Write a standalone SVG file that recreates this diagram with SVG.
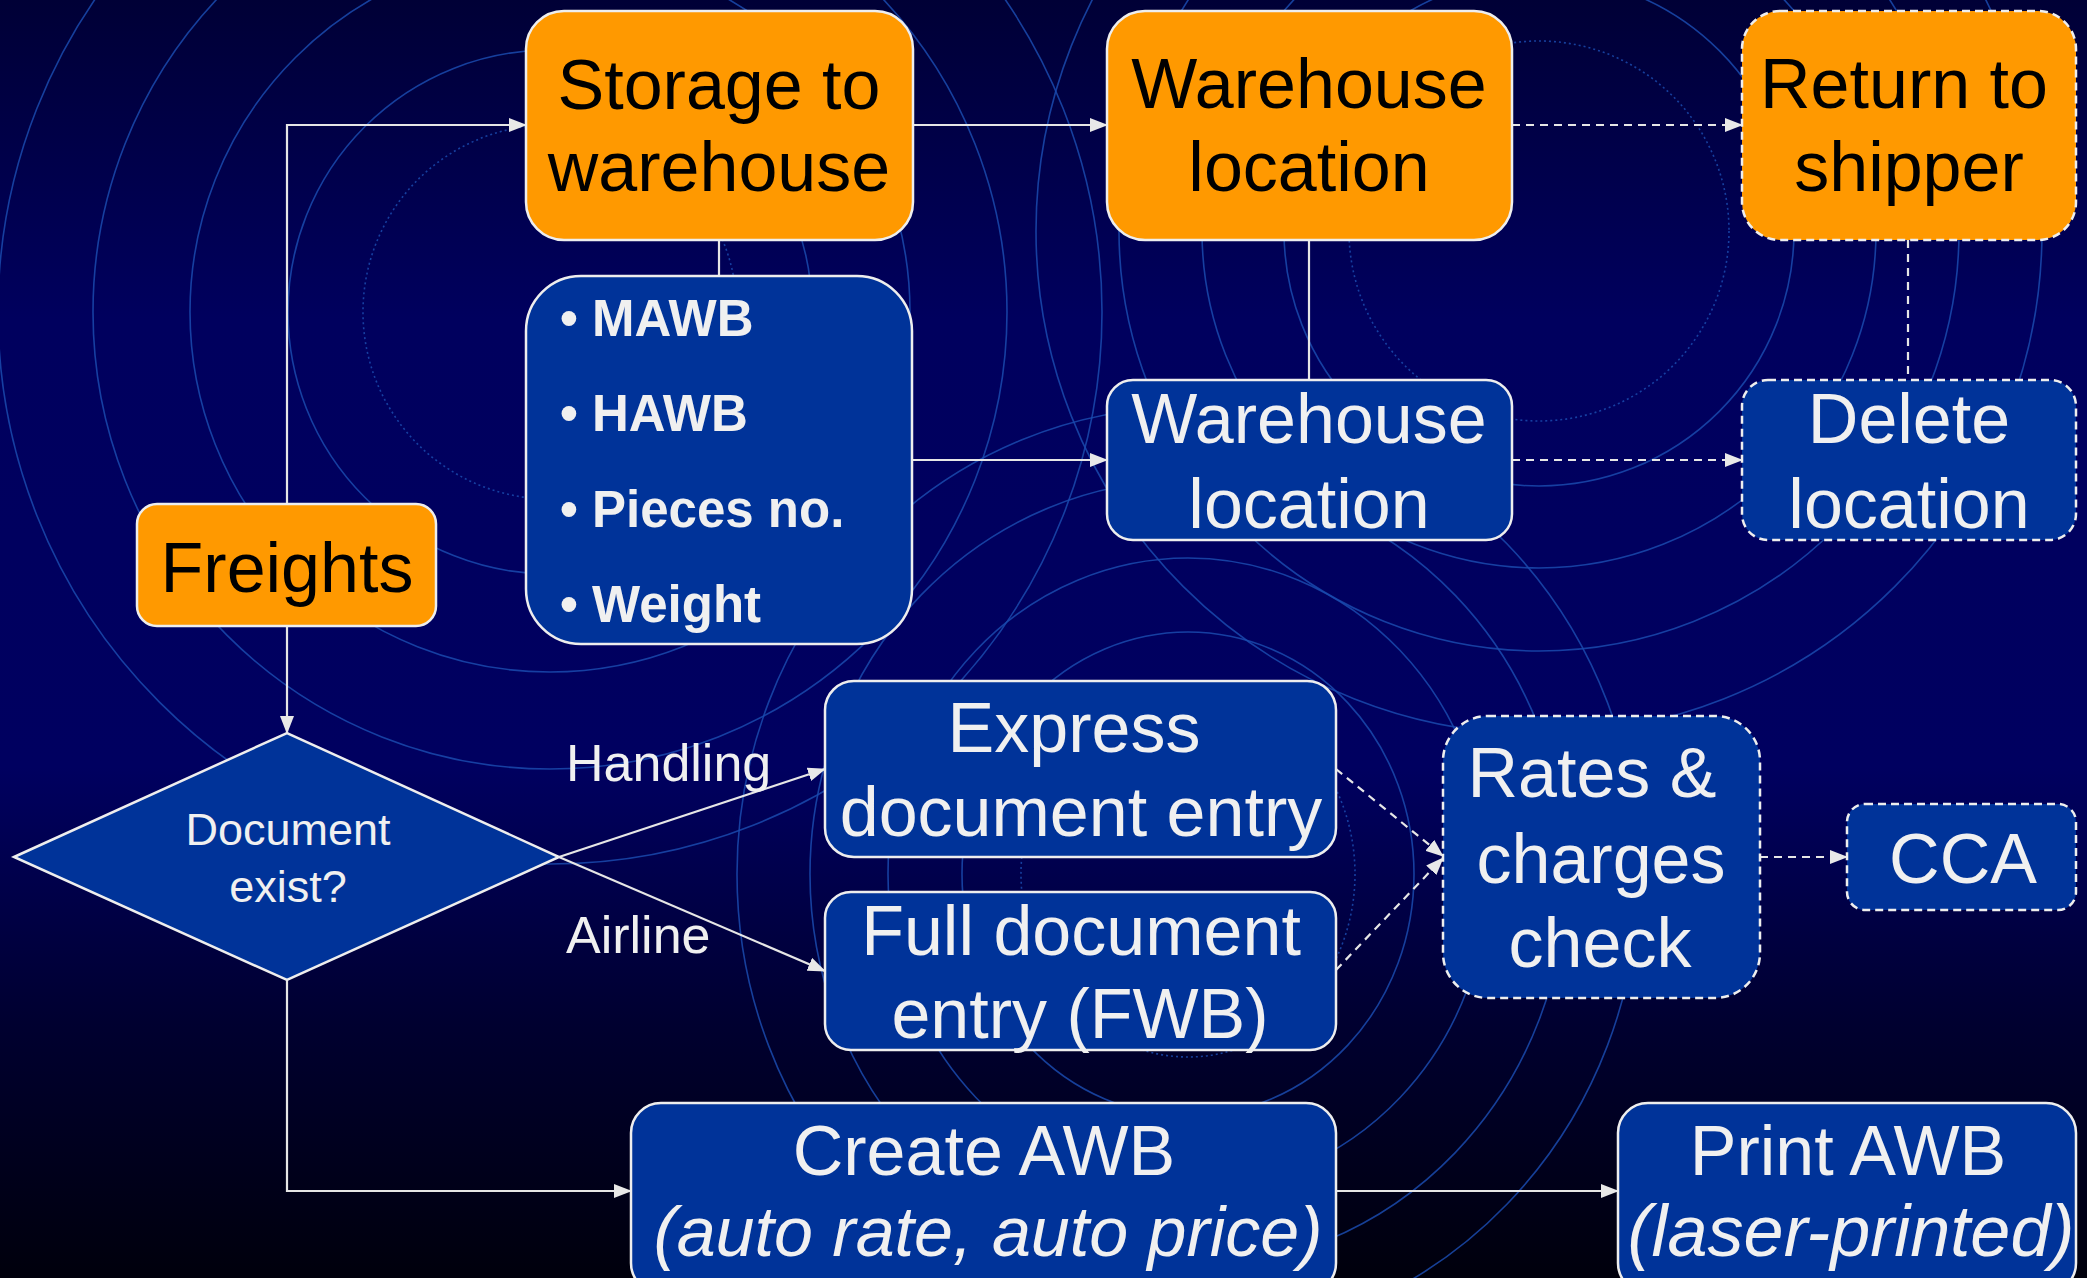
<svg xmlns="http://www.w3.org/2000/svg" width="2087" height="1278" viewBox="0 0 2087 1278">
<defs>
<linearGradient id="bg" x1="0" y1="0" x2="0" y2="1">
<stop offset="0" stop-color="#000036"/>
<stop offset="0.25" stop-color="#00005e"/>
<stop offset="0.6" stop-color="#000060"/>
<stop offset="0.8" stop-color="#000030"/>
<stop offset="1" stop-color="#00000c"/>
</linearGradient>
<marker id="arr" markerUnits="userSpaceOnUse" markerWidth="18" markerHeight="14" refX="17" refY="7" orient="auto">
<path d="M0,0 L18,7 L0,14 z" fill="#e8e8e8"/>
</marker>
<style>
.ring{fill:none;stroke:#1a4aae;stroke-width:1.6;opacity:0.85}
.dot{fill:none;stroke:#1a4aae;stroke-width:1.6;stroke-dasharray:2 3;opacity:0.85}
.org{fill:#ff9900;stroke:#eeeeee;stroke-width:2.5}
.blu{fill:#003399;stroke:#eeeeee;stroke-width:2.5}
.dash{stroke-dasharray:8 5}
.ln{fill:none;stroke:#e6e6e6;stroke-width:2.2}
.dl{fill:none;stroke:#e6e6e6;stroke-width:2.2;stroke-dasharray:8 6}
text{font-family:"Liberation Sans",Arial,sans-serif}
.tb{font-size:70px;fill:#000000;text-anchor:middle}
.tw{font-size:70px;fill:#f0f0f0;text-anchor:middle}
.it{font-style:italic}
.bul{font-size:51px;font-weight:bold;fill:#f0f0f0}
.lbl{font-size:52px;fill:#f0f0f0}
</style>
</defs>
<g id="background">
<rect x="0" y="0" width="2087" height="1278" fill="url(#bg)"/>
<circle class="dot" cx="550" cy="312" r="187"/>
<circle class="ring" cx="550" cy="312" r="262"/>
<circle class="ring" cx="550" cy="312" r="360"/>
<circle class="ring" cx="550" cy="312" r="457"/>
<circle class="ring" cx="550" cy="312" r="552"/>
<circle class="dot" cx="1539" cy="231" r="190"/>
<circle class="ring" cx="1539" cy="231" r="255"/>
<circle class="ring" cx="1539" cy="231" r="337"/>
<circle class="ring" cx="1539" cy="231" r="420"/>
<circle class="ring" cx="1539" cy="231" r="503"/>
<ellipse class="dot" cx="1188" cy="874" rx="167" ry="183"/>
<ellipse class="ring" cx="1188" cy="874" rx="226" ry="242"/>
<ellipse class="ring" cx="1188" cy="874" rx="300" ry="316"/>
<ellipse class="ring" cx="1188" cy="874" rx="378" ry="394"/>
<ellipse class="ring" cx="1188" cy="874" rx="451" ry="467"/>
</g>
<g id="connectors">
<polyline class="ln" points="287,504 287,125 526,125" marker-end="url(#arr)"/>
<line class="ln" x1="913" y1="125" x2="1107" y2="125" marker-end="url(#arr)"/>
<line class="ln" x1="719" y1="240" x2="719" y2="276"/>
<line class="ln" x1="912" y1="460" x2="1107" y2="460" marker-end="url(#arr)"/>
<line class="ln" x1="1309" y1="240" x2="1309" y2="380"/>
<line class="dl" x1="1512" y1="125" x2="1742" y2="125" marker-end="url(#arr)"/>
<line class="dl" x1="1512" y1="460" x2="1742" y2="460" marker-end="url(#arr)"/>
<line class="dl" x1="1908" y1="240" x2="1908" y2="380"/>
<line class="ln" x1="287" y1="626" x2="287" y2="733" marker-end="url(#arr)"/>
<line class="ln" x1="559" y1="857" x2="825" y2="769" marker-end="url(#arr)"/>
<line class="ln" x1="559" y1="857" x2="825" y2="971" marker-end="url(#arr)"/>
<polyline class="ln" points="287,980 287,1191 631,1191" marker-end="url(#arr)"/>
<line class="ln" x1="1336" y1="1191" x2="1618" y2="1191" marker-end="url(#arr)"/>
<line class="dl" x1="1336" y1="769" x2="1443" y2="856" marker-end="url(#arr)"/>
<line class="dl" x1="1336" y1="970" x2="1443" y2="858" marker-end="url(#arr)"/>
<line class="dl" x1="1760" y1="857" x2="1847" y2="857" marker-end="url(#arr)"/>
<text class="lbl" x="566" y="781">Handling</text>
<text class="lbl" x="566" y="953">Airline</text>
</g>
<g id="storage">
<rect class="org" x="526" y="11" width="387" height="229" rx="38"/>
<text class="tb" x="719" y="109">Storage to</text>
<text class="tb" x="719" y="191">warehouse</text>
</g>
<g id="warehouse-location-1">
<rect class="org" x="1107" y="11" width="405" height="229" rx="38"/>
<text class="tb" x="1309" y="108">Warehouse</text>
<text class="tb" x="1309" y="191">location</text>
</g>
<g id="return-to-shipper">
<rect class="org dash" x="1742" y="11" width="334" height="229" rx="38"/>
<text class="tb" x="1904" y="108">Return to</text>
<text class="tb" x="1909" y="191">shipper</text>
</g>
<g id="details">
<rect class="blu" x="526" y="276" width="386" height="368" rx="55"/>
<text class="bul" x="560" y="336">• MAWB</text>
<text class="bul" x="560" y="431">• HAWB</text>
<text class="bul" x="560" y="527">• Pieces no.</text>
<text class="bul" x="560" y="622">• Weight</text>
</g>
<g id="warehouse-location-2">
<rect class="blu" x="1107" y="380" width="405" height="160" rx="26"/>
<text class="tw" x="1309" y="443">Warehouse</text>
<text class="tw" x="1309" y="528">location</text>
</g>
<g id="delete-location">
<rect class="blu dash" x="1742" y="380" width="334" height="160" rx="26"/>
<text class="tw" x="1909" y="443">Delete</text>
<text class="tw" x="1909" y="528">location</text>
</g>
<g id="freights">
<rect class="org" x="137" y="504" width="299" height="122" rx="20"/>
<text class="tb" x="287" y="592">Freights</text>
</g>
<g id="document-exist">
<polygon class="blu" points="14,857 287,733 559,857 287,980"/>
<text class="tw" x="288" y="845" style="font-size:45px">Document</text>
<text class="tw" x="288" y="902" style="font-size:45px">exist?</text>
</g>
<g id="express-entry">
<rect class="blu" x="825" y="681" width="511" height="176" rx="29"/>
<text class="tw" x="1074" y="752">Express</text>
<text class="tw" x="1081" y="836">document entry</text>
</g>
<g id="full-entry">
<rect class="blu" x="825" y="892" width="511" height="158" rx="26"/>
<text class="tw" x="1081" y="955">Full document</text>
<text class="tw" x="1080" y="1038">entry (FWB)</text>
</g>
<g id="rates-check">
<rect class="blu dash" x="1443" y="716" width="317" height="282" rx="45"/>
<text class="tw" x="1592" y="797">Rates &amp;</text>
<text class="tw" x="1601" y="883">charges</text>
<text class="tw" x="1600" y="967">check</text>
</g>
<g id="cca">
<rect class="blu dash" x="1847" y="804" width="229" height="106" rx="18"/>
<text class="tw" x="1963" y="883">CCA</text>
</g>
<g id="create-awb">
<rect class="blu" x="631" y="1103" width="705" height="190" rx="30"/>
<text class="tw" x="984" y="1175">Create AWB</text>
<text class="tw it" x="988" y="1256">(auto rate, auto price)</text>
</g>
<g id="print-awb">
<rect class="blu" x="1618" y="1103" width="458" height="190" rx="30"/>
<text class="tw" x="1848" y="1175">Print AWB</text>
<text class="tw it" x="1851" y="1256" style="font-size:72px">(laser-printed)</text>
</g>
</svg>
